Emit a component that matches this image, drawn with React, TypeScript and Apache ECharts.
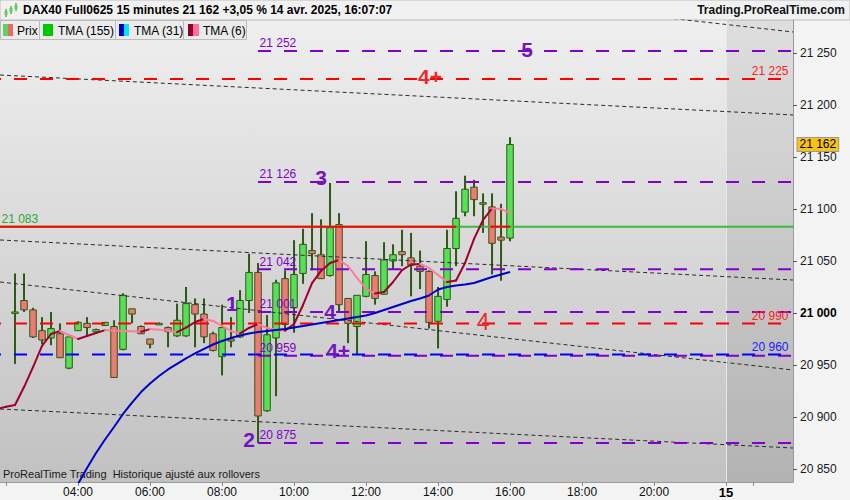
import React, { useEffect, useRef } from 'react';
import * as echarts from 'echarts';

// x axis counts 15-minute bars from 04:00 (index 0); first drawn bar is 02:15
const firstBar = -7;
const opens = [21000, 21012, 21003, 20983, 20976, 20980, 20947, 20983, 20990, 20982, 20988, 20987, 20965, 21004, 20987, 20975, 20990, 20986, 20978, 20978, 21008, 20999, 20980, 20958, 20975, 20977, 21012, 21039, 20906, 20976, 21033, 21005, 21038, 21060, 21056, 21036, 21085, 21014, 20987, 21016, 21036, 21018, 21050, 21059, 21053, 21045, 21040, 20992, 21013, 21062, 21097, 21121, 21106, 21102, 21073, 21072];
const highs = [21038, 21038, 21005, 20996, 21001, 20990, 20977, 20992, 20996, 20985, 20991, 20993, 21019, 21004, 20988, 20975, 20991, 20987, 21009, 21025, 21014, 21014, 20982, 21008, 20996, 21022, 21057, 21048, 20998, 21032, 21041, 21070, 21081, 21096, 21090, 21125, 21096, 21014, 21017, 21069, 21040, 21068, 21066, 21080, 21077, 21060, 21041, 21025, 21080, 21117, 21132, 21128, 21115, 21115, 21105, 21169];
const lows = [20951, 21001, 20976, 20970, 20969, 20957, 20946, 20983, 20977, 20982, 20988, 20938, 20964, 20990, 20980, 20966, 20989, 20967, 20977, 20977, 20967, 20971, 20963, 20940, 20967, 20976, 21000, 20875, 20905, 20920, 20985, 20981, 21028, 21041, 21033, 21035, 21001, 20971, 20960, 21015, 21008, 21018, 21042, 21045, 21016, 21023, 20985, 20966, 21006, 21045, 21093, 21093, 21077, 21037, 21031, 21069];
const closes = [21001, 21003, 20977, 20974, 20985, 20957, 20977, 20991, 20986, 20984, 20991, 20938, 21017, 20999, 20980, 20970, 20990, 20982, 20993, 21009, 20999, 20977, 20964, 20986, 20973, 21012, 21039, 20901, 20979, 21029, 20989, 21037, 21066, 21057, 21033, 21082, 21008, 20990, 21017, 21037, 21014, 21051, 21056, 21056, 21046, 21040, 20991, 21016, 21062, 21091, 21119, 21109, 21105, 21067, 21070, 21162];

// TMA (31), from the 04:00 bar
const tma31Start = 0;
const tma31 = [20835.6, 20851, 20865.4, 20878.4, 20890.4, 20902.9, 20913.9, 20924, 20932.2, 20939.4, 20945.7, 20951, 20956.3, 20961.1, 20965.4, 20969.7, 20973.1, 20976, 20978.4, 20980.3, 20981.7, 20982.7, 20983.7, 20984.6, 20986.1, 20987.5, 20988.9, 20990.4, 20991.8, 20993.3, 20994.7, 20996.2, 20997.6, 21000, 21002.9, 21005.8, 21008.7, 21011.5, 21013.9, 21016.8, 21022.6, 21025, 21026.4, 21027.4, 21028.8, 21031.7, 21034.6, 21037, 21039.4];

// TMA (6), from the 01:45 bar
const tma6Start = -9;
const tma6 = [20907.7, 20909.8, 20911.5, 20928.8, 20948, 20968.3, 20979.8, 20982.7, 20978.8, 20975, 20977.9, 20980.8, 20983.5, 20983.2, 20982.8, 20982.4, 20982, 20984.5, 20984, 20983, 20981.5, 20986, 20991.3, 20994.2, 20992.3, 20987.5, 20982.7, 20980.3, 20985.6, 20989.4, 20985.6, 20983.7, 20983, 20989.4, 21007.7, 21028.8, 21040.4, 21048.1, 21051, 21045.2, 21033.7, 21023.1, 21018.8, 21020.2, 21029.8, 21041.3, 21046.6, 21047.1, 21043.3, 21036.5, 21029.8, 21031.3, 21048.1, 21071.2, 21089.4, 21100.5, 21100, 21096.2];

const xMin = -8.67;
const xMax = 79.44;
const yMin = 20837.5;
const yMax = 21281.7;
const xTicks = [-8, 0, 8, 16, 24, 32, 40, 48, 56, 64, 72, 75];
const xTickLabels = ['', '04:00', '06:00', '08:00', '10:00', '12:00', '14:00', '16:00', '18:00', '20:00', '15', ''];
const yTicks = [20850, 20900, 20950, 21000, 21050, 21100, 21150, 21200, 21250];
const nextSession = 72;

const purpleLevels = [21252, 21126, 21042, 21001, 20959, 20875];
const purpleFrom = 20;
const redLevels = [21225, 20990];
const blueLevels = [20960];
const refLevel = 21083;
const refRedSpans = [[-9, 42], [45.8, 48]];
const lastPrice = 21162;

// dotted trend lines, two points each [bar, price]
const trendLines = [
  [[60, 21289], [79.44, 21270.2]],
  [[-8.67, 21228.8], [79.44, 21190.4]],
  [[-8.67, 21070.2], [79.44, 21031.7]],
  [[-8.67, 21029.8], [79.44, 20945.2]],
  [[-8.67, 20907.7], [79.44, 20870.2]],
];

const waveText = ['5', '4+', '3', '1', '4', '4+', '2', '4'];
const waveBar = [49.9, 39.1, 27, 17.1, 28, 28.9, 19, 45];
const wavePrice = [21252.9, 21226.9, 21129.8, 21009.6, 21001.9, 20963.5, 20878.8, 20991.3];
const waveRed = [false, true, false, false, false, false, false, true];

const FONT = '"Liberation Sans", Arial, sans-serif';
const PURPLE = '#8000cc';
const WAVE_PURPLE = '#7414c0';
const RED = '#ff0000';
const BLUE = '#0000ff';
const OUTLINE = '#2c5914';
const BULL = '#55e055';
const BEAR = '#ee7b72';

const fmt = (v: number) => {
  const s = String(Math.round(v));
  return s.slice(0, s.length - 3) + ' ' + s.slice(-3);
};

const hLine = (from: number, to: number, v: number, color: string, dashed: boolean, z: number) => ({
  type: 'line',
  silent: true,
  symbol: 'none',
  z,
  data: [[from, v], [to, v]],
  lineStyle: { color, width: 2, type: dashed ? [13, 13] : 'solid' },
});

const App: React.FC = () => {
  const chartRef = useRef<HTMLDivElement>(null);

  useEffect(() => {
    if (!chartRef.current) return;
    const chart = echarts.init(chartRef.current, undefined, { renderer: 'svg' });

    const candles = opens.map((o, k) => [firstBar + k, o, closes[k], lows[k], highs[k]]);
    const segs = tma6.slice(1).map((v, k) => [tma6Start + k, tma6[k], tma6Start + k + 1, v]);

    const levelSeries: any[] = [];
    purpleLevels.forEach(v => levelSeries.push(hLine(purpleFrom, xMax + 2, v, PURPLE, true, 5)));
    redLevels.forEach(v => levelSeries.push(hLine(-10, xMax + 2, v, RED, true, 5)));
    blueLevels.forEach(v => levelSeries.push(hLine(-10, xMax + 2, v, BLUE, true, 5)));
    levelSeries.push(hLine(-10, xMax + 2, refLevel, '#3cb83c', false, 5));
    refRedSpans.forEach(s => levelSeries.push(hLine(s[0], s[1], refLevel, RED, false, 5)));

    const trendSeries = trendLines.map((pts, k) => ({
      type: 'line',
      silent: true,
      symbol: 'none',
      z: 4,
      data: pts,
      lineStyle: { color: '#2a2a2a', width: 1, type: [4, 3] },
      ...(k === 0
        ? {
            markArea: {
              silent: true,
              itemStyle: { color: 'rgba(0,0,0,0.07)' },
              data: [[{ xAxis: nextSession }, { xAxis: xMax }]],
            },
            markLine: {
              silent: true,
              symbol: 'none',
              label: { show: false },
              lineStyle: { color: '#e8e8e8', width: 1, type: 'solid' },
              data: [{ xAxis: nextSession }],
            },
          }
        : {}),
    }));

    const textPoint = (x: number, y: number, label: any) => ({
      value: [x, y],
      label: { show: true, fontFamily: FONT, textBorderWidth: 0, opacity: 1, ...label },
    });

    const textData: any[] = [];
    purpleLevels.forEach(v =>
      textData.push(textPoint(purpleFrom, v, { formatter: fmt(v), color: PURPLE, fontSize: 12, position: [2, -1], align: 'left', verticalAlign: 'bottom' }))
    );
    redLevels.forEach(v =>
      textData.push(textPoint(xMax, v, { formatter: fmt(v), color: '#ff2020', fontSize: 12, position: [-4, -1], align: 'right', verticalAlign: 'bottom' }))
    );
    blueLevels.forEach(v =>
      textData.push(textPoint(xMax, v, { formatter: fmt(v), color: '#1a1aff', fontSize: 12, position: [-4, -1], align: 'right', verticalAlign: 'bottom' }))
    );
    textData.push(textPoint(xMin, refLevel, { formatter: fmt(refLevel), color: '#2ea82e', fontSize: 12, position: [2, -1], align: 'left', verticalAlign: 'bottom' }));
    waveText.forEach((t, k) =>
      textData.push(
        textPoint(waveBar[k], wavePrice[k], {
          formatter: t,
          position: [0.5, 0.5],
          align: 'center',
          verticalAlign: 'middle',
          color: waveRed[k] ? '#ec2a2a' : WAVE_PURPLE,
          fontSize: waveRed[k] && t === '4' ? 23 : 21,
          fontWeight: waveRed[k] && t === '4' ? 'normal' : 'bold',
        })
      )
    );
    textData.push(
      textPoint(xMax, lastPrice, {
        formatter: fmt(lastPrice),
        position: 'right',
        distance: 4,
        color: '#000',
        fontSize: 12,
        backgroundColor: '#f7c414',
        borderColor: '#9a9a9a',
        borderWidth: 1,
        padding: [1, 2, 0, 2],
      })
    );

    const option: any = {
      animation: false,
      backgroundColor: '#f3f3f3',
      textStyle: { fontFamily: FONT },
      grid: {
        left: 0,
        right: 57,
        top: 20,
        bottom: 18,
        show: true,
        borderWidth: 0,
        backgroundColor: new echarts.graphic.LinearGradient(0, 0, 0, 1, [
          { offset: 0, color: '#efefef' },
          { offset: 1, color: '#c1c1c1' },
        ]),
      },
      xAxis: {
        type: 'value',
        min: xMin,
        max: xMax,
        splitLine: { show: false },
        axisLine: { show: true, onZero: false, lineStyle: { color: '#9a9a9a' } },
        axisTick: { show: true, length: 4, customValues: xTicks, lineStyle: { color: '#8a8a8a' } },
        axisLabel: {
          customValues: xTicks,
          margin: 4,
          color: '#111',
          fontSize: 12,
          fontFamily: FONT,
          formatter: (v: number) => {
            const t = xTickLabels[xTicks.indexOf(v)] ?? '';
            return t === '15' ? '{b|15}' : t;
          },
          rich: { b: { fontWeight: 'bold', fontSize: 13, color: '#000', fontFamily: FONT } },
        },
      },
      yAxis: {
        type: 'value',
        position: 'right',
        min: yMin,
        max: yMax,
        scale: true,
        splitLine: { show: false },
        axisLine: { show: true, onZero: false, lineStyle: { color: '#9a9a9a' } },
        axisTick: { show: true, length: 4, customValues: yTicks, lineStyle: { color: '#555' } },
        axisLabel: {
          customValues: yTicks,
          margin: 7,
          color: '#1a1a1a',
          fontSize: 12,
          fontFamily: FONT,
          formatter: (v: number) => (v === 21000 ? '{b|21 000}' : fmt(v)),
          rich: { b: { fontWeight: 'bold', fontSize: 12, color: '#000', fontFamily: FONT } },
        },
      },
      graphic: [
        {
          type: 'group',
          z: 100,
          children: [
            { type: 'rect', shape: { x: 0, y: 0, width: 850, height: 20 }, style: { fill: '#f1f1f1', stroke: '#bdbdbd', lineWidth: 1 } },
            { type: 'line', shape: { x1: 6, y1: 9, x2: 6, y2: 17 }, style: { stroke: '#2c7a14', lineWidth: 1 } },
            { type: 'rect', shape: { x: 4.5, y: 11, width: 3, height: 4 }, style: { fill: '#5bd05b' } },
            { type: 'line', shape: { x1: 11, y1: 6, x2: 11, y2: 14 }, style: { stroke: '#2c7a14', lineWidth: 1 } },
            { type: 'rect', shape: { x: 9.5, y: 8, width: 3, height: 4 }, style: { fill: '#5bd05b' } },
            { type: 'line', shape: { x1: 16, y1: 3, x2: 16, y2: 11 }, style: { stroke: '#2c7a14', lineWidth: 1 } },
            { type: 'rect', shape: { x: 14.5, y: 5, width: 3, height: 4 }, style: { fill: '#5bd05b' } },
            {
              type: 'text',
              x: 23,
              y: 10,
              style: { text: 'DAX40 Full0625 15 minutes 21 162 +3,05 % 14 avr. 2025, 16:07:07', font: `bold 12px ${FONT}`, fill: '#000', verticalAlign: 'middle' },
            },
            {
              type: 'text',
              x: 845,
              y: 10,
              style: { text: 'Trading.ProRealTime.com', font: `bold 12px ${FONT}`, fill: '#111', align: 'right', verticalAlign: 'middle' },
            },
            { type: 'rect', shape: { x: 0.5, y: 20.5, width: 246, height: 19 }, style: { fill: '#ebebeb', stroke: '#bcbcbc', lineWidth: 1 } },
            { type: 'line', shape: { x1: 39.5, y1: 21, x2: 39.5, y2: 40 }, style: { stroke: '#bcbcbc', lineWidth: 1 } },
            { type: 'line', shape: { x1: 115.5, y1: 21, x2: 115.5, y2: 40 }, style: { stroke: '#bcbcbc', lineWidth: 1 } },
            { type: 'line', shape: { x1: 183.5, y1: 21, x2: 183.5, y2: 40 }, style: { stroke: '#bcbcbc', lineWidth: 1 } },
            { type: 'rect', shape: { x: 3, y: 24, width: 5, height: 12 }, style: { fill: '#5fd35f' } },
            { type: 'rect', shape: { x: 8, y: 24, width: 5, height: 12 }, style: { fill: '#e66c64' } },
            { type: 'text', x: 17, y: 30.5, style: { text: 'Prix', font: `12px ${FONT}`, fill: '#000', verticalAlign: 'middle' } },
            { type: 'rect', shape: { x: 43, y: 24, width: 10, height: 12 }, style: { fill: '#00c800' } },
            { type: 'text', x: 58, y: 30.5, style: { text: 'TMA (155)', font: `12px ${FONT}`, fill: '#000', verticalAlign: 'middle' } },
            { type: 'rect', shape: { x: 119, y: 24, width: 5, height: 12 }, style: { fill: '#0000c8' } },
            { type: 'rect', shape: { x: 124, y: 24, width: 5, height: 12 }, style: { fill: '#00e8ff' } },
            { type: 'text', x: 134, y: 30.5, style: { text: 'TMA (31)', font: `12px ${FONT}`, fill: '#000', verticalAlign: 'middle' } },
            { type: 'rect', shape: { x: 188, y: 24, width: 5, height: 12 }, style: { fill: '#8c0030' } },
            { type: 'rect', shape: { x: 193, y: 24, width: 6, height: 12 }, style: { fill: '#ff6e9e' } },
            { type: 'text', x: 203, y: 30.5, style: { text: 'TMA (6)', font: `12px ${FONT}`, fill: '#000', verticalAlign: 'middle' } },
            {
              type: 'text',
              x: 3,
              y: 474,
              style: { text: 'ProRealTime Trading  Historique ajusté aux rollovers', font: `11px ${FONT}`, fill: '#1a1a1a', verticalAlign: 'middle' },
            },
          ],
        },
      ],
      series: [
        ...trendSeries,
        {
          type: 'custom',
          z: 3,
          clip: true,
          silent: true,
          data: candles,
          encode: { x: 0, y: [1, 2, 3, 4] },
          renderItem: (_params: any, api: any) => {
            const x = api.value(0);
            const o = api.value(1);
            const c = api.value(2);
            const top = api.coord([x, Math.max(o, c)]);
            const bot = api.coord([x, Math.min(o, c)]);
            const hi = api.coord([x, api.value(4)]);
            const lo = api.coord([x, api.value(3)]);
            const w = api.size([1, 0])[0] * 0.72;
            return {
              type: 'group',
              children: [
                { type: 'line', shape: { x1: hi[0], y1: hi[1], x2: lo[0], y2: lo[1] }, style: { stroke: OUTLINE, lineWidth: 2 } },
                {
                  type: 'rect',
                  shape: { x: top[0] - w / 2, y: top[1], width: w, height: Math.max(bot[1] - top[1], 1.5) },
                  style: { fill: c >= o ? BULL : BEAR, stroke: OUTLINE, lineWidth: 1 },
                },
              ],
            };
          },
        },
        {
          type: 'line',
          z: 6,
          silent: true,
          symbol: 'none',
          data: tma31.map((v, k) => [tma31Start + k, v]),
          lineStyle: { color: '#0000c8', width: 2 },
        },
        {
          type: 'custom',
          z: 6,
          clip: true,
          silent: true,
          data: segs,
          encode: { x: [0, 2], y: [1, 3] },
          renderItem: (_params: any, api: any) => {
            const p0 = api.coord([api.value(0), api.value(1)]);
            const p1 = api.coord([api.value(2), api.value(3)]);
            const up = api.value(3) >= api.value(1);
            return {
              type: 'line',
              shape: { x1: p0[0], y1: p0[1], x2: p1[0], y2: p1[1] },
              style: { stroke: up ? '#a0002c' : '#ff7a9c', lineWidth: 2, lineCap: 'round' },
            };
          },
        },
        ...levelSeries,
        {
          type: 'scatter',
          z: 8,
          silent: true,
          symbolSize: 1,
          itemStyle: { color: 'rgba(0,0,0,0)' },
          data: textData,
        },
      ],
    };

    chart.setOption(option);
    return () => {
      chart.dispose();
    };
  }, []);

  return (
    <div
      ref={chartRef}
      style={{ position: 'fixed', left: 0, top: 0, width: '850px', height: '500px' }}
    />
  );
};

export default App;
